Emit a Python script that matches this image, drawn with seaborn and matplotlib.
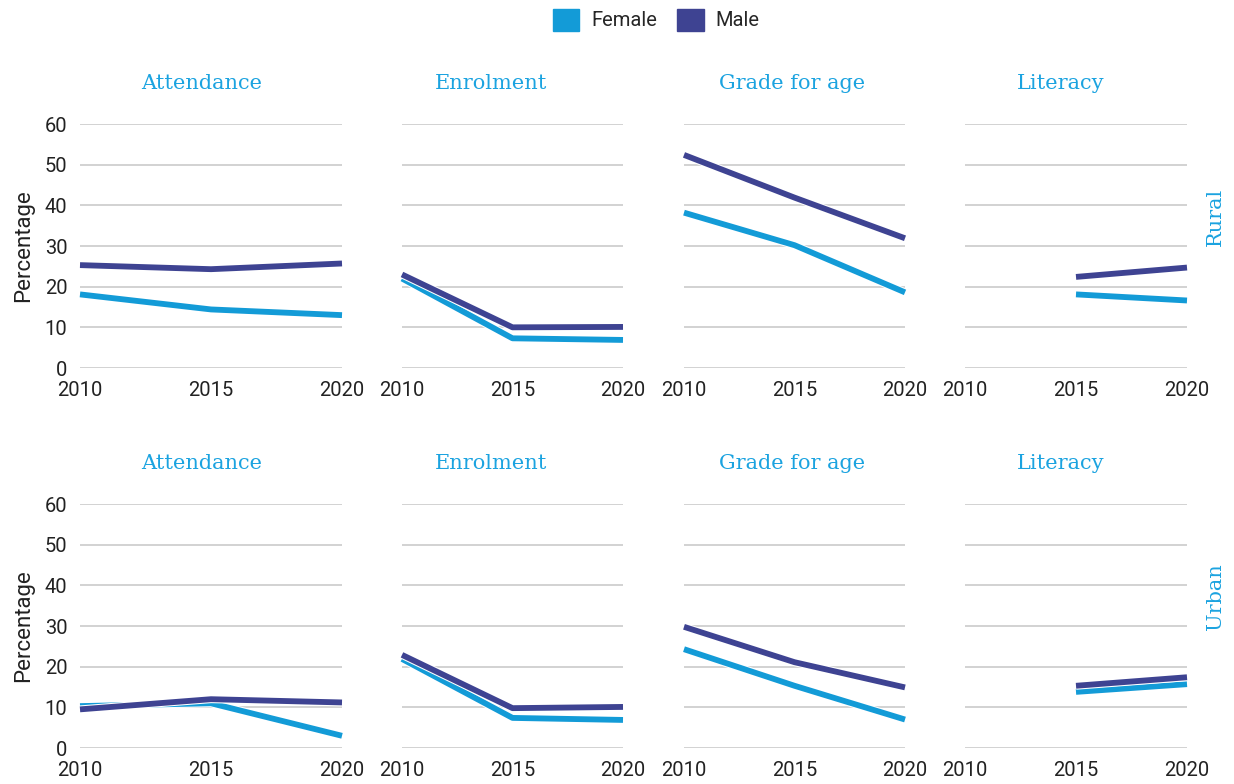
import numpy as np
import pandas as pd
import matplotlib
matplotlib.use('Agg')
import matplotlib.pyplot as plt
import matplotlib.patheffects as pe
from matplotlib.patches import Patch
import seaborn as sns

years = [2010, 2015, 2020]
indicators = ['Attendance', 'Enrolment', 'Grade for age', 'Literacy']
areas = ['Rural', 'Urban']

# rural
rural_female = {
    'Attendance': [18.1, 14.4, 13.0],
    'Enrolment': [22.0, 7.3, 6.9],
    'Grade for age': [38.2, 30.2, 18.6],
    'Literacy': [np.nan, 18.1, 16.6],
}
rural_male = {
    'Attendance': [25.3, 24.3, 25.7],
    'Enrolment': [23.0, 10.0, 10.1],
    'Grade for age': [52.4, 41.9, 31.9],
    'Literacy': [np.nan, 22.4, 24.7],
}
# urban
urban_female = {
    'Attendance': [10.3, 11.0, 3.0],
    'Enrolment': [21.9, 7.4, 6.9],
    'Grade for age': [24.3, 15.3, 7.0],
    'Literacy': [np.nan, 13.8, 15.7],
}
urban_male = {
    'Attendance': [9.5, 12.0, 11.2],
    'Enrolment': [22.9, 9.8, 10.1],
    'Grade for age': [29.8, 21.1, 14.9],
    'Literacy': [np.nan, 15.3, 17.4],
}

female_col = '#139bd7'
male_col = '#3e4392'
title_col = '#1ba3e0'

rows = []
for area, fem, mal in [('Rural', rural_female, rural_male), ('Urban', urban_female, urban_male)]:
    for ind in indicators:
        for sex, d in [('Female', fem), ('Male', mal)]:
            for yr, v in zip(years, d[ind]):
                rows.append(dict(area=area, indicator=ind, sex=sex, year=yr, value=v))
df = pd.DataFrame(rows).dropna()

sns.set_style('white')
plt.rcParams['font.family'] = ['Roboto', 'DejaVu Sans']

fig = plt.figure(figsize=(12.34, 7.84), dpi=100)
W, H = 1234, 784
lefts = [80, 402, 684, 965]
widths = [262, 221, 221, 222]
title_x = [0.466, 0.403, 0.489, 0.432]
tops = [124, 504]
ph = 244

for r, area in enumerate(areas):
    for c, ind in enumerate(indicators):
        ax = fig.add_axes([lefts[c] / W, 1 - (tops[r] + ph) / H, widths[c] / W, ph / H])
        sub = df[(df.area == area) & (df.indicator == ind)]
        sns.lineplot(data=sub, x='year', y='value', hue='sex', hue_order=['Female', 'Male'],
                     palette={'Female': female_col, 'Male': male_col}, estimator=None,
                     linewidth=4.2, ax=ax, legend=False, clip_on=False,
                     solid_capstyle='butt', solid_joinstyle='round',
                     path_effects=[pe.Stroke(linewidth=5.7, foreground='white'), pe.Normal()])
        ax.set_xlim(2010, 2020)
        ax.set_ylim(0, 60)
        ax.set_xticks(years)
        ax.set_yticks(range(0, 61, 10))
        ax.grid(axis='y', color='#cfcfcf', linewidth=1.3)
        ax.set_axisbelow(True)
        for s in ax.spines.values():
            s.set_visible(False)
        ax.tick_params(axis='x', length=3, labelsize=14.5, pad=6, labelcolor='#222222', color='#bbbbbb')
        ax.tick_params(axis='y', length=0, labelsize=14.5, pad=9, labelcolor='#222222')
        ax.set_xlabel('')
        if c == 0:
            ax.set_ylabel('Percentage', fontsize=16, color='#222222', labelpad=8)
        else:
            ax.set_ylabel('')
            ax.set_yticklabels([])
        ax.set_title(ind, fontsize=15, color=title_col, family='DejaVu Serif', pad=25, x=title_x[c])
        if c == 3:
            ax.text(1.13, 0.62, area, transform=ax.transAxes, rotation=90, ha='center',
                    va='center', fontsize=15, color=title_col, family='DejaVu Serif')

handles = [Patch(color=female_col, label='Female'), Patch(color=male_col, label='Male')]
fig.legend(handles=handles, loc='upper center', bbox_to_anchor=(0.532, 1.012), ncol=2,
           frameon=False, fontsize=14.5, handlelength=1.3, handleheight=1.3, columnspacing=1.0,
           handletextpad=0.6)

fig.savefig('out.png', dpi=100)
